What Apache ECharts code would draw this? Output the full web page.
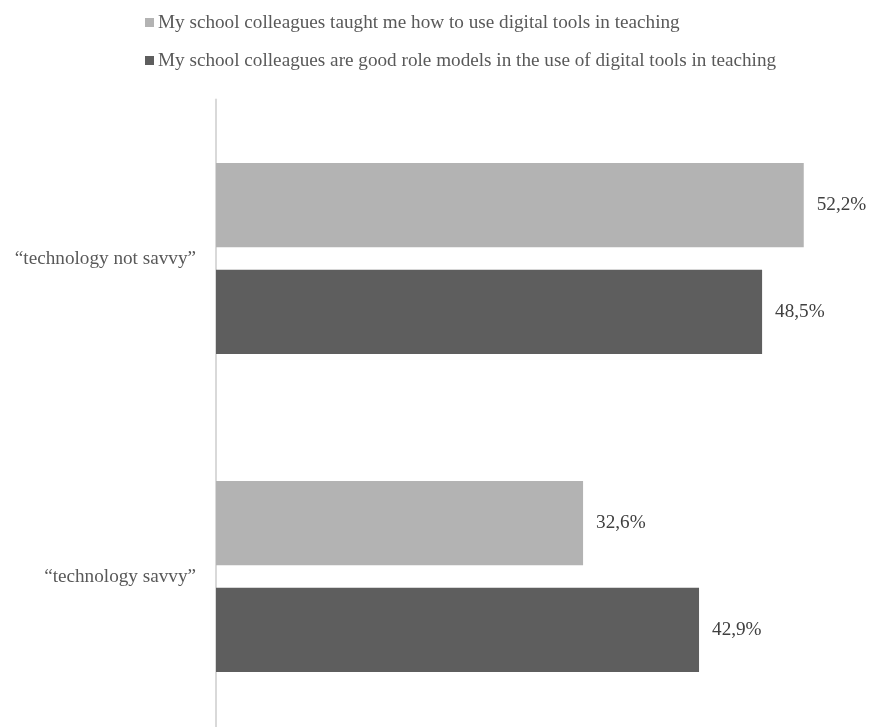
<!DOCTYPE html>
<html>
<head>
<meta charset="utf-8">
<script src="https://cdn.jsdelivr.net/npm/echarts@6/dist/echarts.min.js"></script>
<style>
  html, body { margin: 0; padding: 0; background: #ffffff; }
  #chart { width: 870px; height: 727px; }
</style>
</head>
<body>
<div id="chart"></div>
<script>
// Survey groups (top to bottom)
const categories = ['\u201Ctechnology not savvy\u201D', '\u201Ctechnology savvy\u201D'];

// Share of respondents agreeing, in percent
const taughtMe = [52.2, 32.6];
const roleModels = [48.5, 42.9];

const seriesNames = [
  'My school colleagues taught me how to use digital tools in teaching',
  'My school colleagues are good role models in the use of digital tools in teaching'
];

const serif = '"Liberation Serif", "DejaVu Serif", serif';
const fontSize = 19.2;

function pctLabel(p) {
  return p.value.toFixed(1).replace('.', ',') + '%';
}

const chart = echarts.init(document.getElementById('chart'), null, { renderer: 'canvas' });

chart.setOption({
  animation: false,
  backgroundColor: '#ffffff',
  legend: {
    orient: 'vertical',
    left: 140,
    top: 8,
    itemWidth: 9,
    itemHeight: 9,
    itemGap: 19,
    icon: 'rect',
    textStyle: { fontFamily: serif, fontSize: fontSize, color: '#595959', padding: [0, 0, 0, -1] },
    data: seriesNames
  },
  // the lower category band runs past the canvas edge, so the grid is not clamped
  grid: { left: 216, top: 99.5, height: 636, width: 641.8, containLabel: false, outerBoundsMode: 'none' },
  xAxis: {
    type: 'value',
    min: 0,
    max: 57,
    show: false
  },
  yAxis: {
    type: 'category',
    inverse: true,
    data: categories,
    axisLine: { show: true, lineStyle: { color: '#d9d9d9', width: 2 } },
    axisTick: { show: false },
    axisLabel: { fontFamily: serif, fontSize: fontSize, color: '#595959', margin: 20 }
  },
  series: [
    {
      name: seriesNames[0],
      type: 'bar',
      data: taughtMe,
      itemStyle: { color: '#b3b3b3' },
      barCategoryGap: '40%',
      barGap: '27%',
      label: { show: true, position: 'right', distance: 13, formatter: pctLabel,
        fontFamily: serif, fontSize: fontSize, color: '#404040' }
    },
    {
      name: seriesNames[1],
      type: 'bar',
      data: roleModels,
      itemStyle: { color: '#5e5e5e' },
      barCategoryGap: '40%',
      barGap: '27%',
      label: { show: true, position: 'right', distance: 13, formatter: pctLabel,
        fontFamily: serif, fontSize: fontSize, color: '#404040' }
    }
  ]
});
</script>
</body>
</html>
